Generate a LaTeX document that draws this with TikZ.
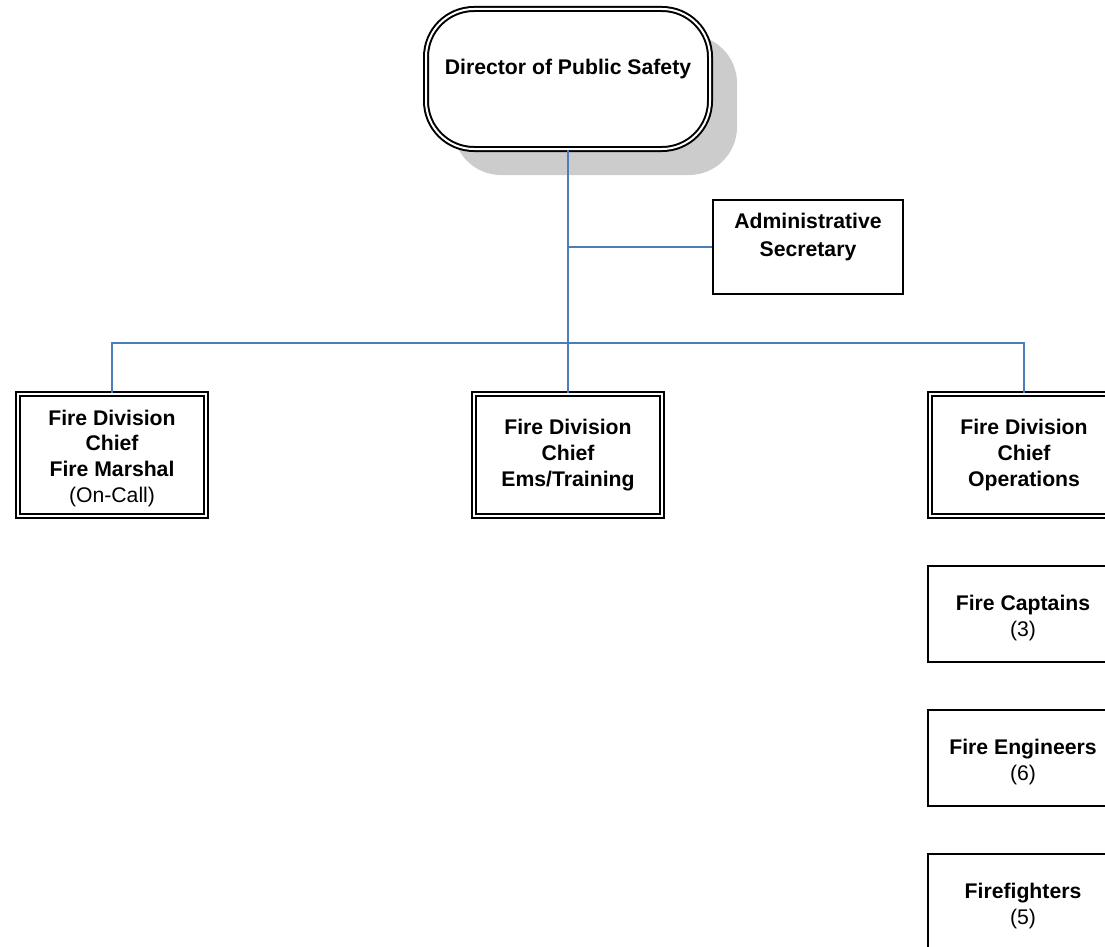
\documentclass[tikz,border=0pt]{standalone}
\usepackage{fontspec}
\setmainfont{Liberation Sans}
\usetikzlibrary{shadows}
\definecolor{linkblue}{RGB}{74,126,187}
\begin{document}
\begin{tikzpicture}[x=1pt,y=-1pt,
  every node/.style={font=\fontsize{21.2}{25.8}\selectfont\bfseries, align=center, inner sep=0pt},
  dblbox/.style={draw, double, line width=2pt, double distance=2pt,
    minimum width=188pt, minimum height=122pt},
  onebox/.style={draw, line width=2pt, minimum width=190pt, minimum height=96pt},
  conn/.style={draw=linkblue, line width=2pt}]
\useasboundingbox (0,0) rectangle (1105,947);
\clip (0,0) rectangle (1105,947);

% head of the department, with a soft grey shadow
\node[draw, double, line width=2pt, double distance=2pt, rounded corners=48pt,
  minimum width=284pt, minimum height=140pt, fill=white,
  drop shadow={shadow xshift=27pt, shadow yshift=-26pt, fill=gray!40, opacity=1}]
  (dir) at (568,79) {Director of Public Safety\\[-9pt] \strut};

\node[onebox, minimum height=94pt] (adm) at (808,247)
  {Administrative\\[2.2pt]Secretary\\[-8.2pt] \strut};

% division chiefs
\node[dblbox] (marshal) at (112,455)
  {\strut\\[-22pt]Fire Division\\Chief\\Fire Marshal\\\mdseries(On-Call)};
\node[dblbox] (ems) at (568,455) {Fire Division\\Chief\\Ems/Training};
\node[dblbox] (ops) at (1024,455) {Fire Division\\Chief\\Operations};

% operations staff
\node[onebox] (capt) at (1023,614) {\strut\\[-20pt]Fire Captains\\\mdseries(3)};
\node[onebox] (eng) at (1023,758) {\strut\\[-20pt]Fire Engineers\\\mdseries(6)};
\node[onebox] (ff) at (1023,902) {\strut\\[-20pt]Firefighters\\\mdseries(5)};

% reporting lines
\coordinate (bus) at (568,343);
\draw[conn] (dir.south) -- (ems.north);
\draw[conn] (dir.south |- adm.west) -- (adm.west);
\draw[conn] (marshal.north) |- (bus) -| (ops.north);
\end{tikzpicture}
\end{document}
